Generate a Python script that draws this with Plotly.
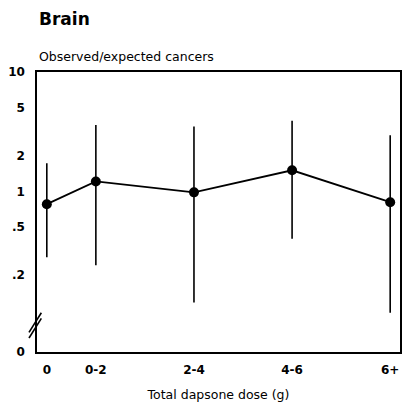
import math
import plotly.graph_objects as go

# Dose groups and observed/expected ratios with 95% confidence limits
dose_groups = ["0", "0-2", "2-4", "4-6", "6+"]
oe_ratio = [0.78, 1.21, 0.98, 1.50, 0.81]
ci_lower = [0.28, 0.24, 0.117, 0.40, 0.096]
ci_upper = [1.72, 3.6, 3.5, 3.9, 2.95]

y_tick_values = [10, 5, 2, 1, 0.5, 0.2]
y_tick_labels = ["10", "5", "2", "1", ".5", ".2"]
y_floor = 0.045          # bottom of the broken log axis, labelled "0"

# Plotting positions: the unexposed group sits half a step before the first dose band
x_pos = [0, 1, 3, 5, 7]

font_family = "DejaVu Sans"

fig = go.Figure()

fig.add_trace(go.Scatter(
    x=x_pos,
    y=oe_ratio,
    mode="lines+markers",
    line=dict(color="black", width=1.8),
    marker=dict(color="black", size=10),
    error_y=dict(
        type="data",
        symmetric=False,
        array=[u - r for u, r in zip(ci_upper, oe_ratio)],
        arrayminus=[r - l for r, l in zip(oe_ratio, ci_lower)],
        color="black",
        thickness=1.6,
        width=0,
    ),
    showlegend=False,
    cliponaxis=False,
))

# Reference line at O/E = 1
fig.add_shape(type="line", xref="paper", x0=0, x1=1, yref="y", y0=0, y1=0,
              line=dict(color="black", width=2))

# Axis break marks on the left axis
for dy in (0.0, 0.02):
    fig.add_shape(type="line", xref="paper", yref="paper",
                  x0=-0.022, x1=0.012, y0=0.05 + dy, y1=0.12 + dy,
                  line=dict(color="black", width=1.6))

fig.update_layout(
    width=403,
    height=407,
    margin=dict(l=37, r=1, t=72, b=55),
    plot_bgcolor="white",
    paper_bgcolor="white",
    font=dict(family=font_family, color="black", size=12),
    annotations=[
        dict(text="<b>Brain</b>", xref="paper", yref="paper", x=0, y=1.145,
             xanchor="left", yanchor="bottom", showarrow=False,
             font=dict(size=17, family=font_family)),
        dict(text="Observed/expected cancers", xref="paper", yref="paper",
             x=0, y=1.022, xanchor="left", yanchor="bottom", showarrow=False,
             font=dict(size=12.5, family=font_family)),
    ],
)

fig.update_xaxes(
    range=[-0.2, 7.2],
    tickvals=x_pos,
    ticktext=dose_groups,
    tickfont=dict(size=12, family=font_family, weight="bold"),
    showgrid=False,
    zeroline=False,
    showline=True,
    linecolor="black",
    linewidth=1.5,
    mirror=True,
    ticks="",
    ticklabelstandoff=6,
    title=dict(text="Total dapsone dose (g)", font=dict(size=12.5, family=font_family),
               standoff=14),
)

fig.update_yaxes(
    type="log",
    range=[math.log10(y_floor), 1.0],
    tickvals=y_tick_values + [y_floor],
    ticktext=y_tick_labels + ["0"],
    tickfont=dict(size=12, family=font_family, weight="bold"),
    showgrid=False,
    zeroline=False,
    showline=True,
    linecolor="black",
    linewidth=1.5,
    mirror=True,
    ticks="",
    ticklabelstandoff=8,
)

fig.write_html("out.html")
